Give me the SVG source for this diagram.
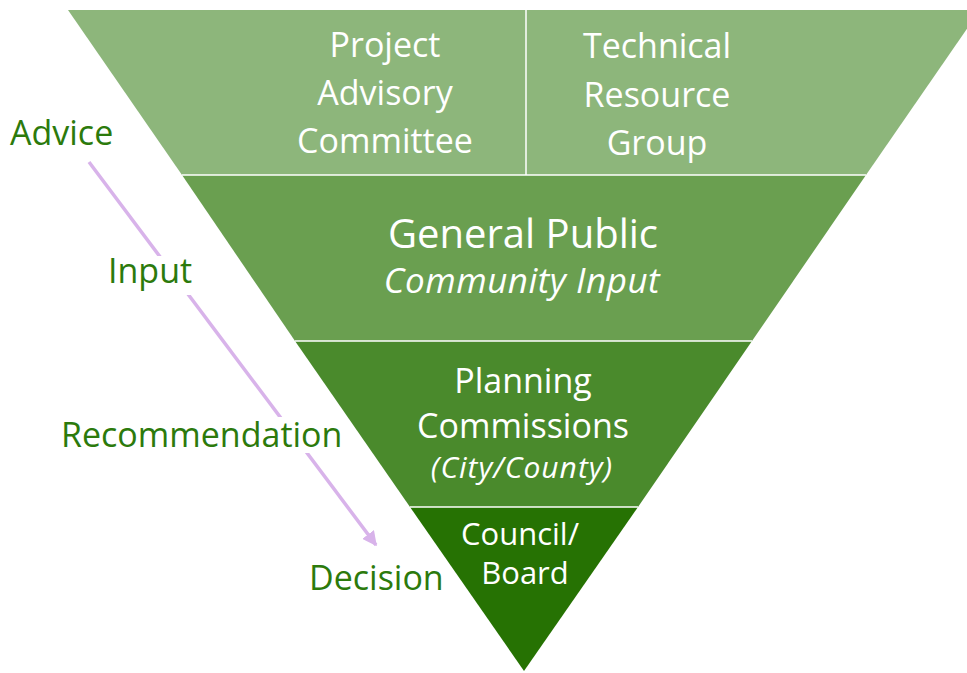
<svg xmlns="http://www.w3.org/2000/svg" width="967" height="673" viewBox="0 0 967 673">
  <defs>
    <style>
      .band-text { font-family: "Open Sans", "Noto Sans", sans-serif; fill: #ffffff; text-anchor: middle; }
      .side { font-family: "Open Sans", "Noto Sans", sans-serif; fill: #2c7a0c; font-size: 34px; }
      .sep { stroke: #ffffff; stroke-width: 1.5; }
      .flow { stroke: #d8b3ea; stroke-width: 3.5; fill: none; }
      .mask { fill: #ffffff; }
    </style>
    <marker id="arrowhead" viewBox="0 0 10 10" refX="9" refY="5" markerWidth="4.2" markerHeight="4.2" orient="auto" markerUnits="strokeWidth">
      <path d="M0,0 L10,5 L0,10 Z" fill="#d8b3ea"/>
    </marker>
  </defs>

  <rect width="967" height="673" fill="#ffffff"/>

  <!-- flow arrow running down the left side -->
  <g id="connectors">
    <line class="flow" x1="89" y1="162" x2="376" y2="545" marker-end="url(#arrowhead)"/>
  </g>

  <!-- stage labels along the arrow -->
  <g id="label-advice">
    <text class="side" x="10" y="145">Advice</text>
  </g>
  <g id="label-input">
    <rect class="mask" x="104" y="256" width="92" height="39"/>
    <text class="side" x="108" y="283">Input</text>
  </g>
  <g id="label-recommendation">
    <rect class="mask" x="58" y="417" width="290" height="36"/>
    <text class="side" x="61" y="447">Recommendation</text>
  </g>
  <g id="label-decision">
    <text class="side" x="309" y="590">Decision</text>
  </g>

  <!-- inverted pyramid, top band split in two -->
  <g id="band-advisory">
    <polygon points="68,10 980,10 866,175 182,175" fill="#8db67b"/>
    <line class="sep" x1="526" y1="10" x2="526" y2="175" stroke-width="2.5"/>
    <text class="band-text" font-size="34" x="385" y="57">Project</text>
    <text class="band-text" font-size="34" x="385" y="105">Advisory</text>
    <text class="band-text" font-size="34" x="385" y="153">Committee</text>
    <text class="band-text" font-size="34" x="657" y="58">Technical</text>
    <text class="band-text" font-size="34" x="657" y="107">Resource</text>
    <text class="band-text" font-size="34" x="657" y="155">Group</text>
  </g>

  <g id="band-public">
    <polygon points="182,175 866,175 752,341 295,341" fill="#6a9f50"/>
    <line class="sep" x1="182" y1="175" x2="866" y2="175"/>
    <text class="band-text" font-size="40" x="523" y="248">General Public</text>
    <text class="band-text" font-size="35" font-style="italic" letter-spacing="0.5" x="522" y="293">Community Input</text>
  </g>

  <g id="band-planning">
    <polygon points="295,341 752,341 638,507 410,507" fill="#4a8a2c"/>
    <line class="sep" x1="295" y1="341" x2="752" y2="341"/>
    <text class="band-text" font-size="34" x="523" y="393">Planning</text>
    <text class="band-text" font-size="34" x="523" y="438">Commissions</text>
    <text class="band-text" font-size="30" font-style="italic" letter-spacing="1" x="522" y="478">(City/County)</text>
  </g>

  <g id="band-council">
    <polygon points="410,507 638,507 524,671" fill="#267203"/>
    <line class="sep" x1="410" y1="507" x2="638" y2="507"/>
    <text class="band-text" font-size="31" x="520" y="545">Council/</text>
    <text class="band-text" font-size="31" x="525" y="584">Board</text>
  </g>
</svg>
